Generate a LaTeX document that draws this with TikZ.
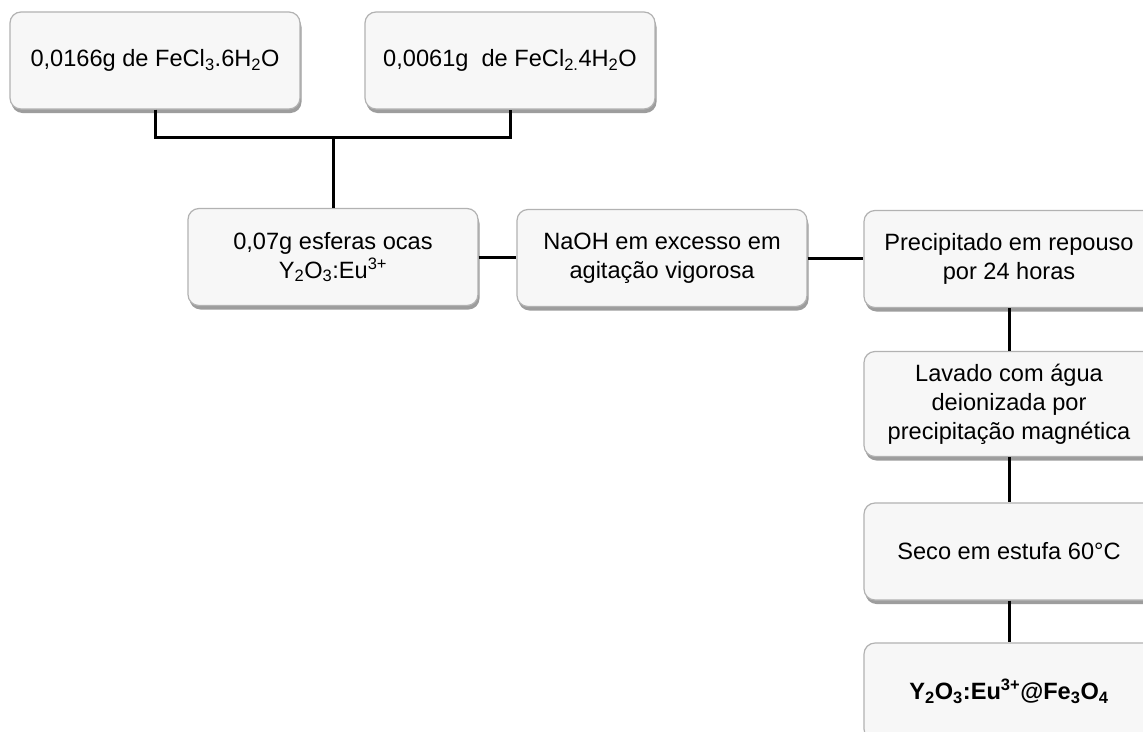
\documentclass[tikz,border=0pt]{standalone}
\usepackage{fontspec}
\setmainfont{Liberation Sans}
\usetikzlibrary{shadows}
\begin{document}
\begin{tikzpicture}[x=1pt,y=-1pt,
  stepbox/.style={draw=gray!60, line width=1.2pt, fill=gray!6, rounded corners=11pt,
    align=center, inner sep=0pt, minimum width=290pt, minimum height=97pt,
    font=\fontsize{23.6}{29}\selectfont,
    drop shadow={shadow xshift=1.5pt, shadow yshift=-4pt, fill=gray!85, opacity=0.9}},
  link/.style={line width=3pt, black}]
\clip (0,0) rectangle (1143,731);
\fill[white] (0,0) rectangle (1143,731);
\node[stepbox] (b1) at (155,60.5) {0,0166g de FeCl\textsubscript{3}.6H\textsubscript{2}O};
\node[stepbox] (b2) at (510,60.5) {0,0061g\ \ de FeCl\textsubscript{2.}4H\textsubscript{2}O};
\node[stepbox] (b3) at (333,257) {0,07g esferas ocas\\Y\textsubscript{2}O\textsubscript{3}:Eu\textsuperscript{3+}};
\node[stepbox] (b4) at (662,258) {NaOH em excesso em\\agitação vigorosa};
\node[stepbox] (b5) at (1009,259) {Precipitado em repouso\\por 24 horas};
\node[stepbox, minimum height=105pt] (b6) at (1009,404) {Lavado com água\\deionizada por\\precipitação magnética};
\node[stepbox] (b7) at (1009,551.5) {Seco em estufa 60°C};
\node[stepbox] (b8) at (1009,691.5) {\bfseries Y\textsubscript{2}O\textsubscript{3}:Eu\textsuperscript{3+}@Fe\textsubscript{3}O\textsubscript{4}};
\coordinate (j) at (333,137);
\draw[link] (b1.south) |- (j) -| (b2.south);
\draw[link] (j) -- (b3.north);
\draw[link] (b3.east) -- (b3.east -| b4.west);
\draw[link] (b4.east) -- (b4.east -| b5.west);
\draw[link] (b5.south) -- (b6.north);
\draw[link] (b6.south) -- (b7.north);
\draw[link] (b7.south) -- (b8.north);
\end{tikzpicture}
\end{document}
